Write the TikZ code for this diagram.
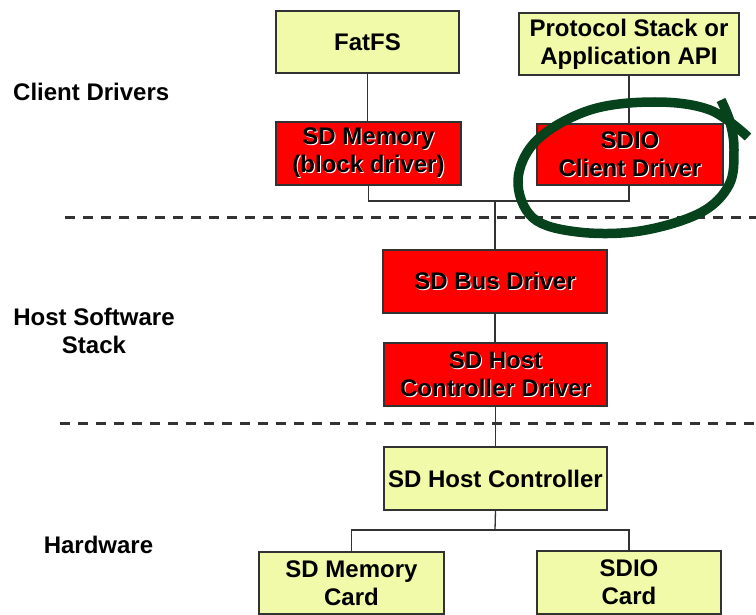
\documentclass[tikz,border=0pt]{standalone}
\usepackage{fontspec}
\setmainfont{Liberation Sans}
\definecolor{boxyellow}{RGB}{240,250,168}
\definecolor{boxred}{RGB}{255,0,0}
\definecolor{edgegray}{RGB}{50,50,50}
\definecolor{markgreen}{RGB}{6,66,28}
% black text with a small white drop shadow, one line at a time
\newcommand\shtxt[1]{\rlap{\kern1pt\raisebox{-1pt}{\color{white}#1}}#1}
\begin{document}
\begin{tikzpicture}[x=1pt,y=-1pt,
  every node/.style={font=\fontsize{24}{28}\selectfont\bfseries, inner sep=0pt},
  layerbox/.style={draw=edgegray, line width=1.3pt, align=center, rectangle},
  hwbox/.style={layerbox, fill=boxyellow},
  drvbox/.style={layerbox, fill=boxred},
  wire/.style={draw=edgegray, line width=1.3pt},
  sep/.style={draw=black!80, line width=3pt, dash pattern=on 10pt off 8pt},
  sidelabel/.style={align=center}]
\useasboundingbox (0,0) rectangle (756,615);
\fill[white] (0,0) rectangle (756,615);

% layer separators
\draw[sep] (65,218) -- (756,218);
\draw[sep] (60,423) -- (756,423);

% client drivers
\node[hwbox, minimum width=183pt, minimum height=62pt] (fatfs) at (367.5,42) {FatFS};
\node[hwbox, minimum width=220pt, minimum height=62pt] (proto) at (629,44) {Protocol Stack or\\Application API};
\node[drvbox, minimum width=185pt, minimum height=63pt] (sdmem) at (368.5,153.5) {\shtxt{SD Memory}\\\shtxt{(block driver)}};
\node[drvbox, minimum width=186pt, minimum height=61pt] (sdioc) at (630,154.5) {\shtxt{SDIO}\\\shtxt{Client Driver}};

% host software stack
\node[drvbox, minimum width=224pt, minimum height=63pt] (bus) at (495,281.5) {\shtxt{SD Bus Driver}};
\node[drvbox, minimum width=223pt, minimum height=63pt] (hcd) at (495.5,374.5) {\shtxt{SD Host}\\\shtxt{Controller Driver}};

% hardware
\node[hwbox, minimum width=223pt, minimum height=63pt] (hc) at (495.5,478.5) {SD Host Controller};
\node[hwbox, minimum width=185pt, minimum height=62pt] (memcard) at (351.5,583) {SD Memory\\Card};
\node[hwbox, minimum width=184pt, minimum height=63pt] (sdiocard) at (629,582.5) {SDIO\\Card};

% layer labels
\node[anchor=west] (lclient) at (13,92) {Client Drivers};
\node[sidelabel] (lhost) at (94,331) {Host Software\\Stack};
\node (lhw) at (98.5,545) {Hardware};

% connections
\coordinate (jtop) at (495,201);
\coordinate (jbot) at (495,530);
\draw[wire] (fatfs.south) -- (fatfs.south |- sdmem.north);
\draw[wire] (proto.south) -- (proto.south |- sdioc.north);
\draw[wire] (sdmem.south) -- (sdmem.south |- jtop) -- (proto.south |- jtop) -- (proto.south |- sdioc.south);
\draw[wire] (jtop) -- (bus.north);
\draw[wire] (bus.south) -- (bus.south |- hcd.north);
\draw[wire] (hcd.south) -- (hcd.south |- hc.north);
\draw[wire] (hc.south) -- (jbot);
\draw[wire] (memcard.north) -- (memcard.north |- jbot) -- (sdiocard.north |- jbot) -- (sdiocard.north);

% hand-drawn highlight round the SDIO client driver
\draw[markgreen, line width=9.5pt, line join=round]
  plot[smooth, tension=0.6] coordinates {(721,100) (730,122) (734,150) (729,185) (700,213) (640,231) (578,232) (533,218) (518,180) (537,140) (590,110) (655,102) (710,110) (748,137)};
\end{tikzpicture}
\end{document}
